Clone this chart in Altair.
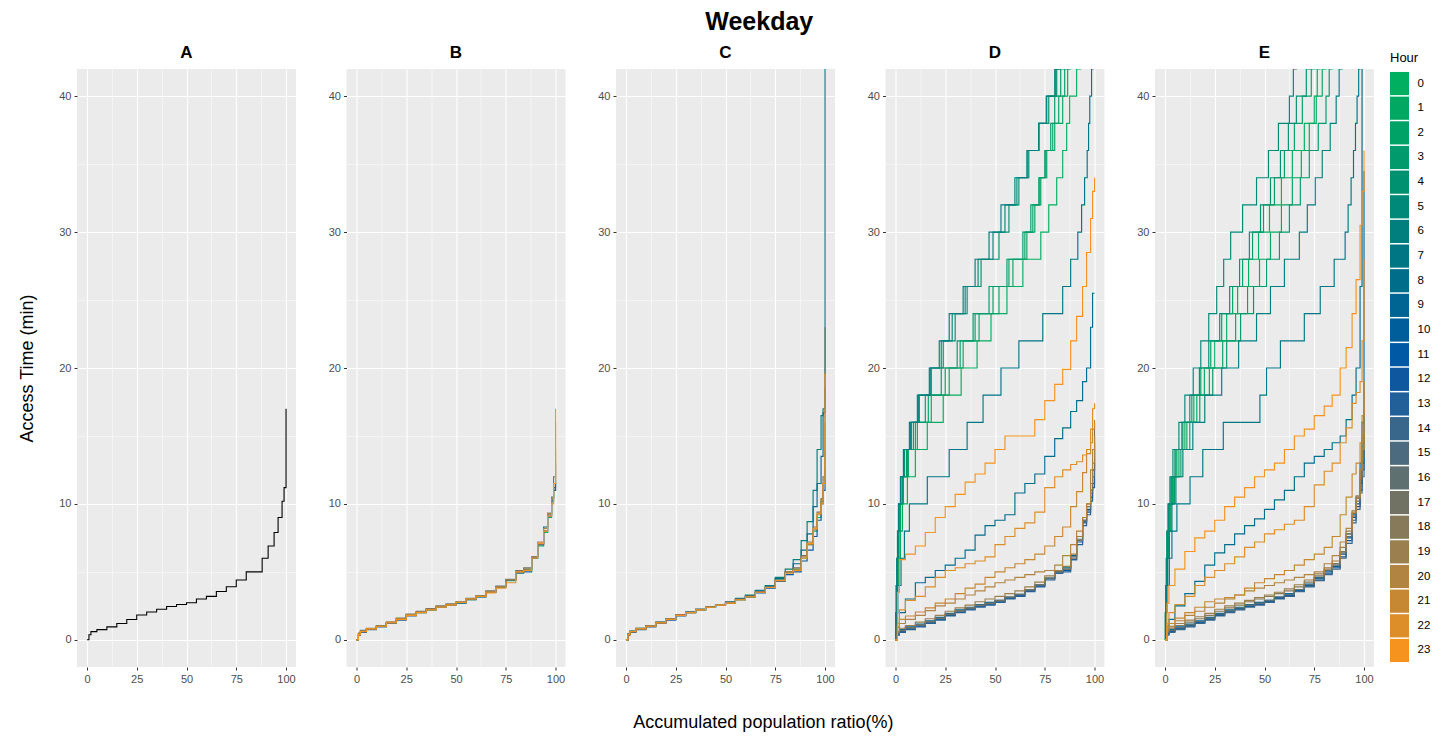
import altair as alt
import pandas as pd

# ---------------- data ----------------
HOURS = list(range(24))
HOUR_COLORS = ["#00AF5F", "#00A862", "#00A266", "#009A6C", "#009171", "#008878",
               "#007F7E", "#007684", "#006D8B", "#006592", "#005E9B", "#0059A5",
               "#0F58A0", "#22609A", "#39678B", "#4C6B7E", "#5E7070", "#717264",
               "#877A5A", "#9B7F4E", "#B28441", "#C68833", "#DD8E29", "#F5931E"]

PANELS = ["A", "B", "C", "D", "E"]

# x grid (accumulated population ratio, %) used by the slowly rising curves
BASE_X = [0, 1, 2, 5, 10, 15, 20, 25, 30, 35, 40, 45, 50, 55, 60, 65, 70, 75,
          80, 84, 88, 91, 94, 96, 98, 99, 100]
# access-time levels (min) used by the steep curves
GREEN_Y = [0, 2, 4, 6, 8, 10, 12, 14, 16, 18, 20, 22, 24, 26, 28, 30, 32, 34,
           36, 38, 40, 42, 44]

# Panel A: single curve, access time at BASE_X
A_Y = [0, 0.37, 0.6, 0.75, 0.95, 1.2, 1.5, 1.83, 2.05, 2.25, 2.45, 2.6, 2.73,
       3.0, 3.2, 3.55, 3.9, 4.4, 5.0, 5.0, 6.0, 6.9, 7.9, 9.0, 10.2, 11.2, 17.0]

# Panel B: access time at BASE_X, per hour
B_Y = {
    0: [0, 0.4, 0.6, 0.8, 1.0, 1.25, 1.5, 1.8, 2.0, 2.2, 2.4, 2.55, 2.7, 2.95, 3.15, 3.5, 3.85, 4.35, 5.0, 5.1, 6.0, 6.9, 7.9, 9.0, 10.3, 11.0, 12.0],
    8: [0, 0.45, 0.65, 0.8, 1.0, 1.25, 1.55, 1.85, 2.05, 2.25, 2.45, 2.6, 2.75, 3.0, 3.2, 3.55, 3.9, 4.4, 4.9, 5.2, 6.1, 7.1, 8.3, 9.3, 10.4, 11.0, 11.5],
    13: [0, 0.35, 0.55, 0.75, 0.95, 1.2, 1.45, 1.75, 2.0, 2.2, 2.4, 2.55, 2.7, 2.95, 3.15, 3.5, 3.9, 4.4, 5.0, 5.0, 6.0, 7.0, 8.0, 9.1, 10.2, 11.2, 13.0],
    17: [0, 0.5, 0.7, 0.85, 1.05, 1.3, 1.6, 1.9, 2.1, 2.3, 2.5, 2.65, 2.8, 3.05, 3.25, 3.6, 3.95, 4.45, 5.1, 5.3, 6.1, 7.0, 8.0, 9.2, 10.5, 12.0, 16.0],
    20: [0, 0.45, 0.65, 0.8, 1.0, 1.3, 1.55, 1.85, 2.05, 2.25, 2.45, 2.6, 2.75, 3.0, 3.2, 3.55, 3.9, 4.4, 5.0, 5.2, 6.1, 7.2, 8.2, 9.3, 10.4, 11.5, 14.0],
    23: [0, 0.4, 0.6, 0.8, 1.0, 1.25, 1.5, 1.8, 2.0, 2.2, 2.4, 2.55, 2.75, 3.0, 3.2, 3.45, 3.8, 4.2, 5.0, 5.1, 6.0, 7.1, 8.0, 9.1, 10.0, 11.5, 17.0],
}

# Panel C: access time at BASE_X, per hour
C_Y = {
    0: [0, 0.4, 0.6, 0.8, 1.0, 1.25, 1.5, 1.8, 2.0, 2.2, 2.4, 2.55, 2.7, 2.95, 3.15, 3.5, 3.85, 4.4, 5.0, 5.2, 6.0, 7.0, 8.0, 9.0, 10.2, 11.5, 14.0],
    6: [0, 0.45, 0.65, 0.85, 1.05, 1.3, 1.55, 1.85, 2.05, 2.25, 2.45, 2.6, 2.8, 3.05, 3.3, 3.65, 4.0, 4.6, 5.2, 5.9, 7.3, 8.7, 11.0, 14.0, 16.5, 17.0, 44.0],
    8: [0, 0.4, 0.6, 0.8, 1.0, 1.25, 1.5, 1.8, 2.05, 2.25, 2.45, 2.6, 2.75, 3.0, 3.25, 3.6, 3.95, 4.5, 5.0, 5.6, 6.6, 7.8, 9.8, 11.5, 13.5, 16.7, 18.5],
    12: [0, 0.35, 0.55, 0.75, 0.95, 1.2, 1.45, 1.75, 2.0, 2.2, 2.4, 2.55, 2.7, 2.95, 3.15, 3.45, 3.8, 4.3, 4.8, 5.0, 5.8, 6.6, 7.6, 8.8, 10.0, 11.0, 12.5],
    17: [0, 0.45, 0.65, 0.85, 1.05, 1.3, 1.55, 1.85, 2.05, 2.25, 2.45, 2.6, 2.75, 3.0, 3.2, 3.55, 3.9, 4.4, 5.0, 5.3, 6.2, 7.2, 8.3, 9.4, 10.4, 12.0, 23.0],
    20: [0, 0.4, 0.6, 0.8, 1.0, 1.25, 1.5, 1.8, 2.0, 2.2, 2.4, 2.55, 2.7, 2.95, 3.2, 3.5, 3.85, 4.35, 5.0, 5.2, 6.1, 7.0, 8.1, 9.2, 10.3, 11.5, 16.0],
    23: [0, 0.4, 0.6, 0.8, 1.0, 1.25, 1.5, 1.8, 2.0, 2.2, 2.4, 2.55, 2.7, 2.95, 3.15, 3.5, 3.85, 4.35, 4.9, 5.1, 6.0, 7.1, 8.2, 9.3, 10.0, 11.5, 19.6],
}

# Panel D steep curves: population ratio (%) at which each GREEN_Y level is reached
D_STEEP = {
    0: [0, 0.5, 1, 1.6, 2.5, 3.5, 6, 10, 16, 24, 33, 41, 48, 56, 64, 73, 77, 81, 84, 86, 87.5, 91, 93],
    1: [0, 0.4, 0.8, 1.2, 1.8, 2.6, 4, 6.5, 11, 18, 27, 34, 42, 52, 59, 66, 70, 73, 76, 80, 84, 86.5, 88],
    2: [0, 0.4, 0.7, 1.1, 1.6, 2.4, 3.7, 6, 10, 16.5, 25, 32.5, 40, 49, 57, 65, 69, 72.5, 75.5, 79, 82, 85, 87],
    3: [0, 0.4, 0.7, 1.0, 1.5, 2.2, 3.5, 5.5, 9, 15, 23, 31, 39, 47, 56, 64, 68, 72, 75, 78, 80, 83, 85],
    4: [0, 0.3, 0.5, 0.8, 1.2, 1.8, 2.8, 4.5, 8, 12, 18, 24, 30, 36, 43, 52, 57, 62, 67, 72, 77, 81, 83],
    5: [0, 0.2, 0.4, 0.75, 1.1, 1.6, 2.6, 4.2, 7.5, 11.5, 17.5, 23, 28.5, 35, 41.5, 49, 55, 61, 66.5, 72, 76, 80.5, 82.5],
    6: [0, 0.2, 0.4, 0.7, 1.0, 1.5, 2.5, 4, 7, 11, 17, 22, 27, 34, 40, 47, 53, 60, 66, 72, 75.7, 80, 82],
    7: [0, 0.5, 1.2, 2.8, 4.5, 7, 16, 27, 36, 44, 53, 62, 74, 84, 88, 91.6, 93.5, 95, 96.3, 97, 97.6, 98.5, 99.2],
}
# Panel D other curves: access time at BASE_X
D_Y = {
    8: [0, 1.2, 2.0, 3.0, 4.2, 4.6, 5.1, 5.5, 6.0, 6.6, 7.7, 8.4, 8.8, 9.2, 10.8, 11.5, 12.2, 13.5, 14.8, 15.6, 16.8, 17.6, 19.0, 20.0, 23.0, 25.5, 25.5],
    9: [0, 0.5, 0.75, 0.95, 1.15, 1.4, 1.65, 1.95, 2.2, 2.4, 2.6, 2.75, 2.9, 3.15, 3.35, 3.7, 4.05, 4.55, 5.0, 5.3, 6.2, 7.6, 8.8, 9.6, 11.0, 12.5, 14.0],
    11: [0, 0.4, 0.6, 0.8, 1.0, 1.25, 1.5, 1.8, 2.05, 2.25, 2.45, 2.6, 2.8, 3.05, 3.25, 3.6, 3.95, 4.5, 4.9, 5.1, 5.9, 7.2, 8.6, 9.4, 10.5, 11.5, 13.0],
    13: [0, 0.35, 0.55, 0.75, 0.95, 1.2, 1.45, 1.75, 2.0, 2.2, 2.4, 2.55, 2.75, 3.0, 3.2, 3.55, 3.9, 4.4, 4.9, 5.0, 5.9, 7.0, 8.4, 9.2, 10.2, 11.2, 12.0],
    15: [0, 0.45, 0.65, 0.85, 1.05, 1.3, 1.55, 1.85, 2.1, 2.3, 2.5, 2.65, 2.85, 3.1, 3.3, 3.65, 4.0, 4.5, 5.0, 5.2, 6.1, 7.4, 8.7, 9.5, 10.8, 12.0, 14.5],
    17: [0, 0.5, 0.7, 0.9, 1.1, 1.35, 1.6, 1.9, 2.15, 2.35, 2.55, 2.7, 2.9, 3.15, 3.35, 3.7, 4.05, 4.55, 5.0, 5.2, 6.0, 7.3, 8.8, 9.8, 11.0, 12.5, 16.0],
    19: [0, 0.6, 0.85, 1.05, 1.3, 1.55, 1.8, 2.1, 2.35, 2.55, 2.8, 3.0, 3.2, 3.4, 3.6, 3.9, 4.25, 4.7, 5.1, 5.4, 6.3, 7.6, 9.0, 10.0, 11.5, 13.0, 15.0],
    20: [0, 0.9, 1.2, 1.5, 1.8, 2.15, 2.5, 2.7, 3.0, 3.3, 3.6, 3.9, 4.2, 4.4, 4.6, 4.8, 5.0, 5.1, 5.5, 6.2, 7.0, 8.0, 9.0, 10.0, 12.5, 14.0, 15.0],
    21: [0, 1.0, 1.5, 1.75, 2.05, 2.35, 2.7, 3.0, 3.4, 3.8, 4.1, 4.6, 5.0, 5.3, 5.6, 5.9, 6.3, 6.9, 7.6, 8.3, 9.8, 10.9, 12.3, 13.7, 14.5, 15.5, 16.2],
    22: [0, 1.2, 2.2, 2.9, 3.2, 3.9, 4.6, 5.1, 5.3, 5.6, 5.8, 6.1, 7.0, 7.6, 8.2, 8.6, 9.4, 11.2, 12.0, 12.5, 12.9, 13.1, 13.6, 14.0, 15.5, 17.0, 17.4],
    23: [0, 3.5, 5.9, 6.3, 6.9, 7.9, 9.0, 9.8, 10.7, 11.6, 12.2, 13.0, 14.0, 15.0, 15.0, 15.0, 16.2, 17.6, 18.8, 19.9, 22.0, 23.8, 26.0, 28.5, 31.0, 33.0, 34.0],
}

# Panel E steep curves: population ratio (%) at which each GREEN_Y level is reached
E_STEEP = {
    0: [0, 0.3, 0.6, 1.0, 1.5, 2.3, 3.8, 6, 10, 14.5, 19.8, 25, 31, 36.5, 42, 47, 52.5, 58.5, 64, 70, 75, 76.5, 78],
    1: [0, 0.3, 0.6, 1.1, 1.7, 2.6, 4.2, 7, 11, 16, 22.3, 29, 35.5, 41.5, 47.5, 53, 58.5, 64, 68.5, 72.5, 76, 79, 81],
    2: [0, 0.3, 0.5, 0.9, 1.3, 2.0, 3.4, 5.5, 9, 13.5, 18, 23, 28.5, 34, 39, 44, 49.5, 55, 60, 65, 69, 73.5, 75.5],
    3: [0, 0.4, 0.7, 1.2, 1.9, 3.0, 4.8, 8, 12.5, 17.5, 24, 31, 38, 44.5, 51, 57.5, 62.5, 68, 72.5, 77, 80.9, 82.5, 84],
    4: [0, 0.2, 0.5, 0.8, 1.1, 1.8, 3, 5, 8.5, 12.5, 17.3, 22, 27.5, 32.5, 37.5, 42.4, 48, 53, 58, 62, 66, 71, 73],
    5: [0, 0.2, 0.4, 0.6, 0.9, 1.5, 2.5, 4, 7, 10, 14.2, 18, 22, 26, 29.5, 33, 39, 46, 52, 57, 62.5, 64.5, 66],
    6: [0, 0.4, 0.8, 1.4, 2.2, 3.5, 5.5, 9, 14, 20, 28.5, 37, 46, 53, 60, 67.5, 71.5, 75.5, 79, 83, 86, 87.5, 89],
    7: [0, 0.4, 1.0, 2.2, 3.5, 6, 12.6, 19, 29.3, 47.7, 51, 58, 70, 78, 85, 90.5, 92, 93.5, 94.7, 95.7, 96.5, 97.3, 98],
}
# Panel E other curves: access time at BASE_X
E_Y = {
    8: [0, 1.0, 1.5, 2.5, 3.4, 4.3, 5.5, 6.4, 7.0, 7.8, 8.4, 8.9, 9.6, 10.3, 11.0, 12.0, 13.0, 13.5, 14.0, 14.5, 15.0, 16.2, 18.0, 20.0, 26.0, 44.0, 44.0],
    9: [0, 0.5, 0.75, 0.95, 1.15, 1.4, 1.65, 1.95, 2.2, 2.4, 2.6, 2.75, 2.9, 3.15, 3.4, 3.7, 4.1, 4.6, 5.1, 5.6, 6.5, 7.8, 9.2, 10.5, 13.0, 16.0, 34.5],
    10: [0, 0.45, 0.65, 0.85, 1.05, 1.3, 1.55, 1.85, 2.1, 2.3, 2.5, 2.65, 2.85, 3.1, 3.3, 3.65, 4.0, 4.5, 5.0, 5.4, 6.3, 7.5, 9.0, 10.0, 11.5, 13.0, 15.0],
    12: [0, 0.4, 0.6, 0.8, 1.0, 1.25, 1.5, 1.8, 2.05, 2.25, 2.45, 2.6, 2.8, 3.05, 3.25, 3.6, 3.95, 4.4, 4.9, 5.3, 6.1, 7.3, 8.8, 9.8, 11.0, 12.5, 14.0],
    14: [0, 0.35, 0.55, 0.75, 0.95, 1.2, 1.45, 1.75, 2.0, 2.2, 2.4, 2.55, 2.75, 3.0, 3.2, 3.55, 3.9, 4.35, 4.8, 5.2, 6.0, 7.1, 8.6, 9.6, 10.8, 12.0, 13.0],
    16: [0, 0.5, 0.7, 0.9, 1.1, 1.35, 1.6, 1.9, 2.15, 2.35, 2.55, 2.7, 2.9, 3.15, 3.35, 3.7, 4.05, 4.55, 5.1, 5.5, 6.4, 7.6, 9.1, 10.2, 11.8, 13.5, 16.0],
    18: [0, 0.6, 0.85, 1.05, 1.3, 1.55, 1.8, 2.1, 2.35, 2.55, 2.8, 3.0, 3.2, 3.4, 3.6, 3.9, 4.25, 4.7, 5.2, 5.6, 6.5, 7.8, 9.3, 10.4, 12.0, 14.0, 17.0],
    19: [0, 0.7, 0.95, 1.2, 1.45, 1.7, 1.95, 2.25, 2.5, 2.7, 2.9, 3.1, 3.3, 3.5, 3.75, 4.05, 4.4, 4.85, 5.3, 5.8, 6.8, 8.0, 9.5, 10.6, 12.5, 15.0, 19.0],
    20: [0, 0.8, 1.0, 1.4, 1.8, 2.1, 2.4, 2.7, 3.0, 3.3, 3.6, 3.8, 4.0, 4.2, 4.4, 4.6, 4.8, 5.0, 5.6, 6.2, 7.2, 8.2, 9.4, 10.5, 12.5, 14.0, 15.5],
    21: [0, 0.9, 1.2, 1.6, 2.0, 2.4, 2.8, 3.0, 3.1, 3.3, 3.8, 4.2, 4.5, 4.8, 5.1, 5.5, 5.9, 6.3, 6.8, 7.6, 9.2, 10.5, 12.2, 13.0, 14.5, 16.5, 19.0],
    22: [0, 1.2, 2.0, 2.6, 3.2, 4.0, 4.6, 5.1, 5.6, 6.1, 6.8, 7.2, 7.8, 8.1, 8.5, 8.8, 9.8, 11.4, 12.4, 13.0, 14.5, 15.6, 17.4, 18.2, 19.0, 22.0, 28.0],
    23: [0, 2.7, 4.0, 5.2, 6.5, 7.5, 8.0, 8.8, 9.8, 10.5, 11.2, 12.0, 12.5, 13.0, 14.0, 15.0, 15.5, 16.5, 17.2, 18.0, 20.0, 21.5, 24.0, 26.5, 30.5, 33.0, 36.0],
}

X_TICKS = [0, 12.5, 25, 37.5, 50, 62.5, 75, 87.5, 100]
Y_TICKS = [0, 5, 10, 15, 20, 25, 30, 35, 40]

# ---------------- long table ----------------
rows = []


def add(panel, hour, xs, ys):
    for i, (xv, yv) in enumerate(zip(xs, ys)):
        rows.append({"panel": panel, "hour": hour, "x": xv, "y": yv, "i": i})


add("A", -1, BASE_X, A_Y)
for h, ys in B_Y.items():
    add("B", h, BASE_X, ys)
for h, ys in C_Y.items():
    add("C", h, BASE_X, ys)
for h, xs in D_STEEP.items():
    add("D", h, xs, GREEN_Y)
for h, ys in D_Y.items():
    add("D", h, BASE_X, ys)
for h, xs in E_STEEP.items():
    add("E", h, xs, GREEN_Y)
for h, ys in E_Y.items():
    add("E", h, BASE_X, ys)

df = pd.DataFrame(rows).sort_values(["panel", "hour", "i"]).reset_index(drop=True)
legend_df = pd.DataFrame({"hour": HOURS})

# ---------------- chart ----------------
FONT = "Liberation Sans"
W, H = 219, 598

color_scale = alt.Scale(domain=HOURS, range=HOUR_COLORS)


def axis_kw(ticks, major):
    test = f"datum.value % {major} === 0"
    return dict(
        values=ticks,
        labelExpr=f"{test} ? datum.label : ''",
        grid=True, gridColor="white",
        gridWidth={"condition": {"test": test, "value": 1.1}, "value": 0.5},
        domain=False, tickColor="#333333", tickSize=3,
        tickOpacity={"condition": {"test": test, "value": 1}, "value": 0},
        labelFont=FONT, labelFontSize=11, labelColor="#4D4D4D", labelPadding=3,
        labelFlush=False,
    )


def y_axis(title=None):
    kw = axis_kw(Y_TICKS, 10)
    if title:
        kw.update(title=title, titleFont=FONT, titleFontSize=18,
                  titleFontWeight="normal", titleColor="black", titlePadding=22)
    else:
        kw.update(title=None)
    return alt.Axis(**kw)


def panel_chart(name):
    base = alt.Chart(df).transform_filter(alt.datum.panel == name)
    xenc = alt.X("x:Q", scale=alt.Scale(domain=[-5, 105], nice=False, zero=False),
                 axis=alt.Axis(title=None, **axis_kw(X_TICKS, 25)))
    yenc = alt.Y("y:Q", scale=alt.Scale(domain=[-2, 42], nice=False, zero=False),
                 axis=y_axis("Access Time (min)" if name == "A" else None))
    if name == "A":
        layer = base.mark_line(interpolate="step-after", strokeWidth=1.1,
                               color="black", clip=True).encode(
            x=xenc, y=yenc, detail="hour:N", order="i:Q")
    else:
        layer = base.mark_line(interpolate="step-after", strokeWidth=1.15,
                               clip=True).encode(
            x=xenc, y=yenc,
            stroke=alt.Stroke("hour:O", scale=color_scale, legend=None),
            order="i:Q")
    return layer.properties(
        width=W, height=H,
        title=alt.Title(name, font=FONT, fontSize=17, fontWeight="bold",
                        color="black", offset=7, anchor="middle"))


# hand-built key for the hour colours (drawn through a band scale)
key = alt.Chart(legend_df).mark_rect().encode(
    y=alt.Y("hour:O",
            scale=alt.Scale(domain=HOURS, paddingInner=0.06, paddingOuter=0.12),
            axis=alt.Axis(orient="right", title=None, domain=False, ticks=False,
                          grid=False, labelFont=FONT, labelFontSize=11.5,
                          labelColor="black", labelPadding=8)),
    fill=alt.Fill("hour:O", scale=color_scale, legend=None),
).properties(
    width=19, height=596,
    view=alt.ViewBackground(fill="white", stroke=None),
    title=alt.Title(["", "Hour"], font=FONT, fontSize=13, fontWeight="normal",
                    color="black", anchor="start", offset=4, lineHeight=7),
)

row = alt.hconcat(
    *[panel_chart(p) for p in PANELS],
    spacing=31.5,
    title=alt.Title("Accumulated population ratio(%)", orient="bottom",
                    font=FONT, fontSize=18, fontWeight="normal",
                    color="black", anchor="middle", offset=30, dx=67),
)

chart = alt.hconcat(
    row, key,
    spacing=16,
    title=alt.Title("Weekday", font=FONT, fontSize=25, fontWeight="bold",
                    color="black", anchor="middle", offset=9, dx=35),
).properties(
    padding={"left": 10, "top": 2, "right": 5, "bottom": 5},
).configure_view(fill="#EBEBEB", stroke=None)

chart.save("out.html", embed_options={"renderer": "svg", "actions": False})
